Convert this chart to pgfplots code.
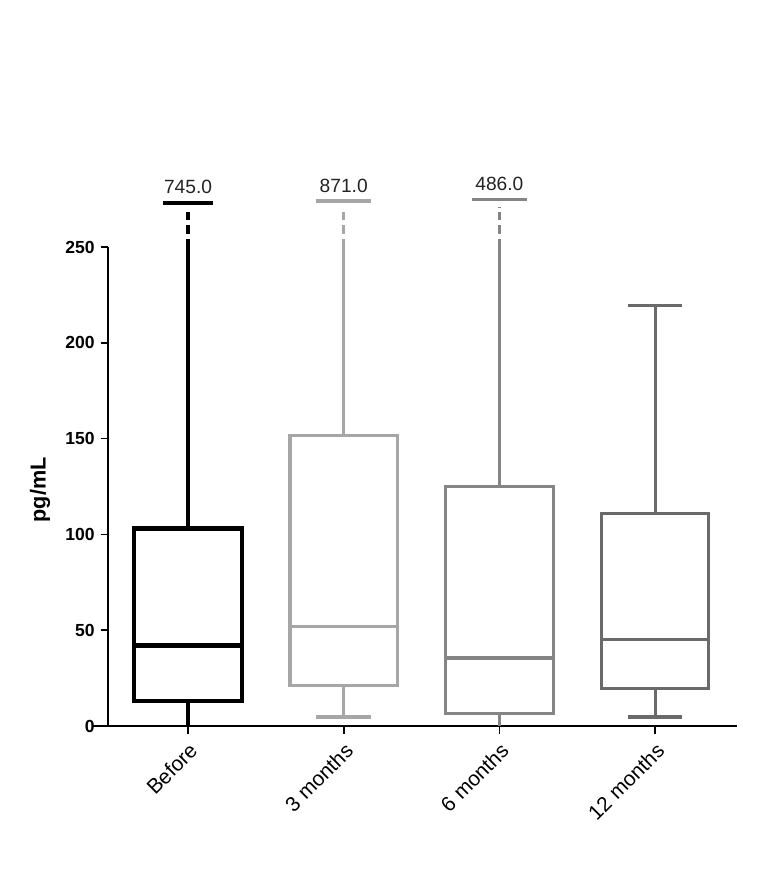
\documentclass[border=0pt]{standalone}
\usepackage{pgfplots}
\pgfplotsset{compat=1.18}
\usepgfplotslibrary{statistics}
\usepackage{fontspec}
\setmainfont{Liberation Sans}
\definecolor{cB}{RGB}{0,0,0}
\definecolor{cC}{RGB}{166,166,166}
\definecolor{cD}{RGB}{133,133,133}
\definecolor{cE}{RGB}{106,106,106}
\definecolor{lab}{RGB}{35,35,35}

\begin{document}
\begin{tikzpicture}
\useasboundingbox (-64.8pt,-91.8pt) rectangle (397.8pt,435.6pt);
\begin{axis}[
    at={(0,0)}, anchor=south west, scale only axis,
    width=377.4pt, height=287.4pt,
    xmin=0.486, xmax=4.526, ymin=0, ymax=250,
    axis x line*=bottom, axis y line*=left,
    axis line style={line width=1pt},
    xtick={1,2,3,4}, xticklabels={Before,3 months,6 months,12 months},
    ytick={0,50,100,150,200,250},
    tick align=outside, major tick length=4.5pt,
    every tick/.style={line width=1pt, black},
    x tick label style={rotate=45, anchor=north east, font=\fontsize{12.5}{14}\selectfont},
    y tick label style={font=\fontsize{10.5}{12}\selectfont\bfseries},
    /pgf/number format/assume math mode=true,
    ylabel={pg/mL},
    ylabel style={at={(axis description cs:-0.108,0.493)}, anchor=center, font=\fontsize{13}{15}\selectfont\bfseries},
    clip=false,
    boxplot/draw direction=y,
]
% boxes
\addplot[cB, line width=2.6pt, boxplot prepared={draw position=1, lower whisker=0, lower quartile=13, median=42, upper quartile=103, upper whisker=250, box extend=0.69, whisker extend=0}] coordinates {};
\addplot[cC, line width=1.9pt, boxplot prepared={draw position=2, lower whisker=4.7, lower quartile=21, median=52, upper quartile=151.5, upper whisker=250, box extend=0.69, whisker extend=0}] coordinates {};
\addplot[cD, line width=1.9pt, boxplot prepared={draw position=3, lower whisker=0, lower quartile=6.5, median=35.5, upper quartile=125, upper whisker=250, box extend=0.69, whisker extend=0}] coordinates {};
\addplot[cE, line width=1.9pt, boxplot prepared={draw position=4, lower whisker=4.7, lower quartile=19.5, median=45, upper quartile=111, upper whisker=219.5, box extend=0.69, whisker extend=0.35}] coordinates {};
% lower caps
\addplot[cC, line width=1.9pt] coordinates {(1.825,4.7) (2.175,4.7)};
% broken whiskers above 250
\addplot[cB, line width=2.4pt, dash pattern=on 5pt off 3pt] coordinates {(1,250) (1,270)};
\addplot[cC, line width=1.9pt, dash pattern=on 5pt off 3pt] coordinates {(2,250) (2,270)};
\addplot[cD, line width=1.9pt, dash pattern=on 5pt off 3pt] coordinates {(3,250) (3,271)};
% top caps with maximum values
\addplot[cB, line width=2.4pt] coordinates {(0.84,273) (1.16,273)} node[pos=0.5, above=1pt, text=lab, font=\fontsize{11.5}{13}\selectfont] {745.0};
\addplot[cC, line width=1.9pt] coordinates {(1.825,274) (2.175,274)} node[pos=0.5, above=1pt, text=lab, font=\fontsize{11.5}{13}\selectfont] {871.0};
\addplot[cD, line width=1.9pt] coordinates {(2.825,275) (3.175,275)} node[pos=0.5, above=1pt, text=lab, font=\fontsize{11.5}{13}\selectfont] {486.0};
\draw[line width=1pt] (axis cs:0.383,0) -- (axis cs:0.486,0);
\end{axis}
\end{tikzpicture}
\end{document}
